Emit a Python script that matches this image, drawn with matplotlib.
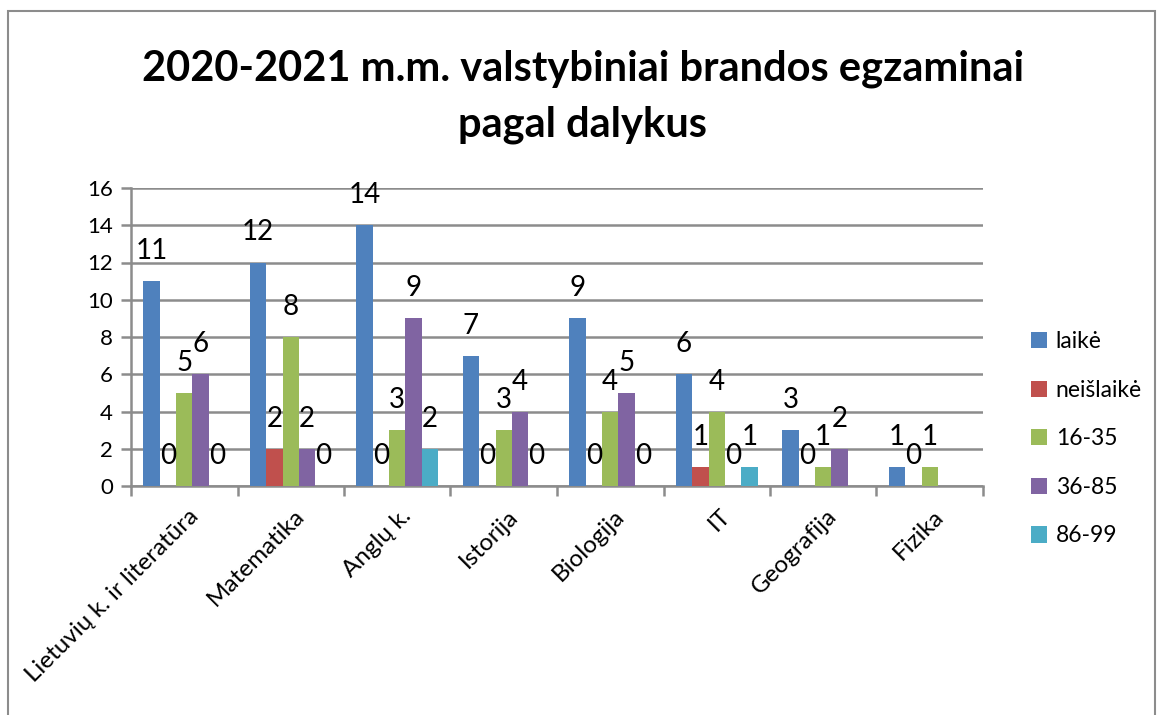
import numpy as np
import matplotlib
matplotlib.use("Agg")
import matplotlib.pyplot as plt
from matplotlib.patches import Rectangle

categories = ["Lietuvių k. ir literatūra", "Matematika", "Anglų k.", "Istorija",
              "Biologija", "IT", "Geografija", "Fizika"]
series_names = ["laikė", "neišlaikė", "16-35", "36-85", "86-99"]
laike     = [11, 12, 14, 7, 9, 6, 3, 1]
neislaike = [0, 2, 0, 0, 0, 1, 0, 0]
s16_35    = [5, 8, 3, 3, 4, 4, 1, 1]
s36_85    = [6, 2, 9, 4, 5, 0, 2, np.nan]
s86_99    = [0, 0, 2, 0, 0, 1, np.nan, np.nan]
colors = ["#4F81BD", "#C0504D", "#9BBB59", "#8064A2", "#4BACC6"]

title_lines = ["2020-2021 m.m. valstybiniai brandos egzaminai", "pagal dalykus"]

plt.rcParams['font.family'] = ['Lato', 'DejaVu Sans']

W, H = 1157, 715
fig = plt.figure(figsize=(W / 100, H / 100), dpi=100)
fig.patch.set_facecolor("white")

# chart border
fig.patches.append(Rectangle((8 / W, -0.05), (1155 - 8) / W, 1.05 - 11 / H,
                             transform=fig.transFigure, fill=False,
                             edgecolor="#8C8C8C", linewidth=1.5))

ax = fig.add_axes([131 / W, 1 - 486 / H, (983 - 131) / W, (486 - 188) / H])

data = [laike, neislaike, s16_35, s36_85, s86_99]
n = len(series_names)
w = 1 / 6.5
x = np.arange(len(categories))
for i, (vals, name, c) in enumerate(zip(data, series_names, colors)):
    v = np.array(vals, dtype=float)
    pos = x + (i - (n - 1) / 2) * w
    ax.bar(pos, np.nan_to_num(v), width=w, color=c, label=name, zorder=3)
    for px, pv in zip(pos, v):
        if not np.isnan(pv):
            ax.annotate(f"{int(pv)}", (px, pv), xytext=(0, 22),
                        textcoords="offset pixels", ha="center", va="baseline",
                        fontsize=20, color="black", zorder=4)

ax.set_xlim(-0.5, len(categories) - 0.5)
ax.set_ylim(0, 16)
ax.set_yticks(np.arange(0, 17, 2))
ax.yaxis.grid(True, color="#8C8C8C", linewidth=1.8, zorder=0)
ax.set_axisbelow(True)
for s in ["top", "right"]:
    ax.spines[s].set_visible(False)
for s in ["left", "bottom"]:
    ax.spines[s].set_color("#8C8C8C")
    ax.spines[s].set_linewidth(1.8)
ax.tick_params(axis="y", length=7, width=1.8, color="#8C8C8C", labelsize=16, pad=6)
ax.set_xticks(np.arange(-0.5, len(categories), 1.0), minor=False)
ax.set_xticklabels([])
ax.set_xticks(x + 0.03, minor=True)
ax.set_xticklabels(categories, minor=True, rotation=45, ha="right", va="top",
                   rotation_mode="anchor", fontsize=17.5)
ax.tick_params(axis="x", which="major", length=7, width=1.8, color="#8C8C8C")
ax.tick_params(axis="x", which="minor", length=0, pad=14)

cx = 583 / W
fig.text(cx, 1 - 80 / H, title_lines[0], ha="center", va="baseline",
         fontsize=30, fontweight="bold")
fig.text(cx, 1 - 137 / H, title_lines[1], ha="center", va="baseline",
         fontsize=30, fontweight="bold")

handles, labels = ax.get_legend_handles_labels()
fig.legend(handles, labels, loc="center left", bbox_to_anchor=(1010 / W, 1 - 439 / H),
           frameon=False, fontsize=16.5, handlelength=0.7, handleheight=0.7,
           handletextpad=0.4, labelspacing=1.2)

fig.savefig("out.png", dpi=100, facecolor="white")
